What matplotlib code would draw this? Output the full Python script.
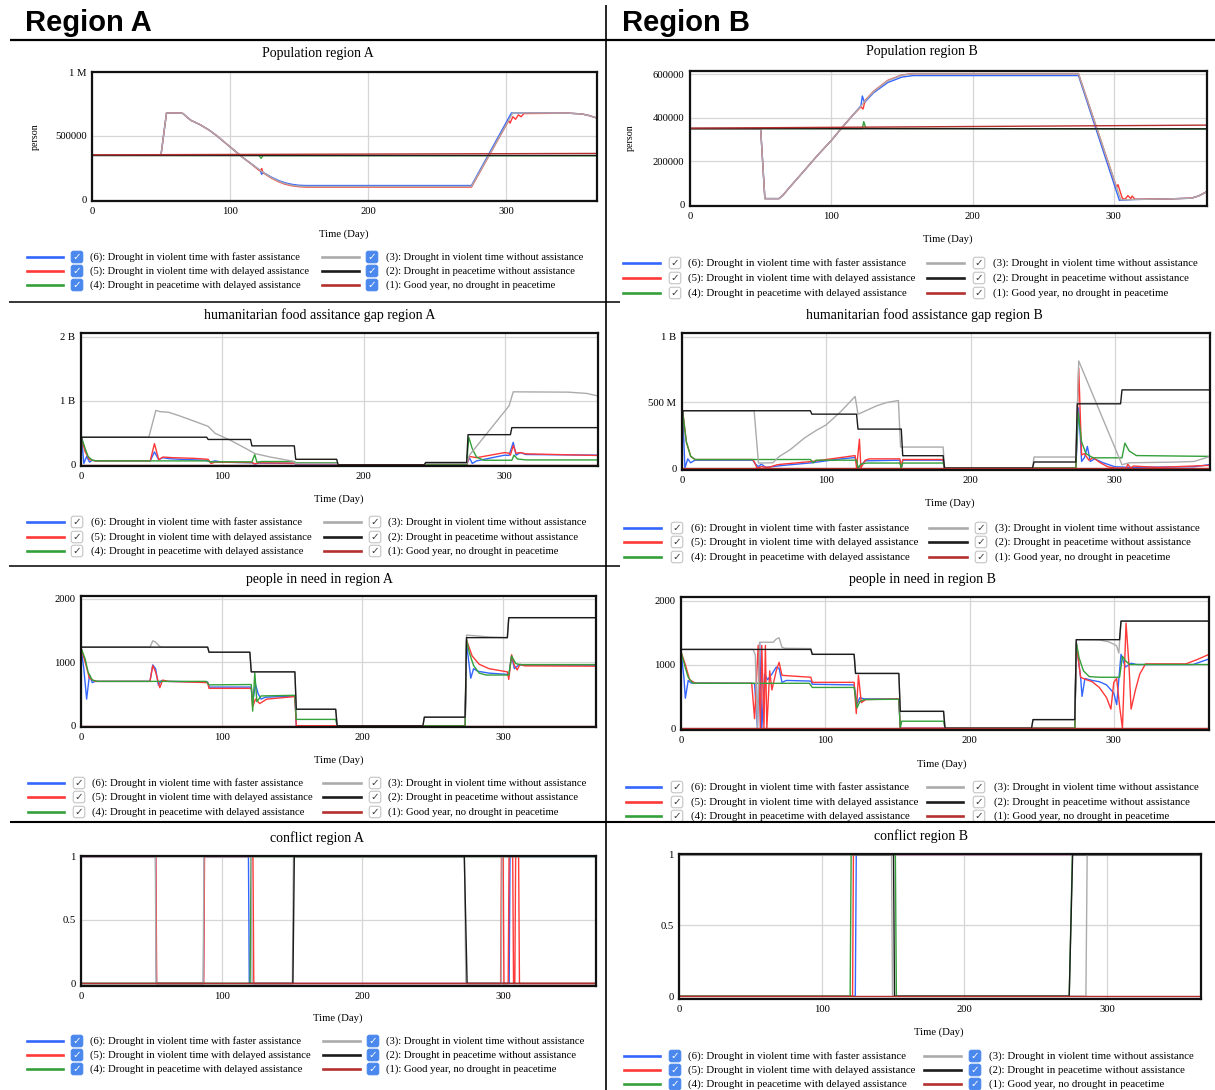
import numpy as np
import matplotlib
matplotlib.use("Agg")
import matplotlib.pyplot as plt
from matplotlib.lines import Line2D
from matplotlib.patches import FancyBboxPatch
from matplotlib.transforms import IdentityTransform

plt.rcParams['font.family'] = ['Liberation Serif', 'DejaVu Serif']

# ---------------- scenario legend ----------------
SCEN_ORDER = [6, 5, 4, 3, 2, 1]
SCEN_LABELS = {
    6: "(6): Drought in violent time with faster assistance",
    5: "(5): Drought in violent time with delayed assistance",
    4: "(4): Drought in peacetime with delayed assistance",
    3: "(3): Drought in violent time without assistance",
    2: "(2): Drought in peacetime without assistance",
    1: "(1): Good year, no drought in peacetime",
}
SCEN_COLORS = {6: '#3366ff', 5: '#ff3838', 4: '#33a03a', 3: '#ababab', 2: '#1c1c1c', 1: '#b3302e'}
X_TICKS = [0, 100, 200, 300]

# ---------------- Population region A (person) ----------------
POP_A_6 = [[0, 350000], [50, 350000], [54, 680000], [64, 680000], [66, 675000], [69, 645000], [72, 620000],
           [78, 590000], [85, 545000], [90, 505000], [95, 460000], [100, 415000], [105, 370000], [110, 325000],
           [115, 285000], [120, 245000], [122, 228000], [123, 200000], [124, 215000], [130, 178000],
           [135, 152000], [140, 133000], [145, 121000], [150, 114000], [155, 112000], [275, 112000],
           [304, 680000], [345, 678000], [355, 672000], [360, 660000], [365, 643000]]
POP_A_5 = [[0, 350000], [50, 350000], [54, 680000], [64, 680000], [66, 675000], [69, 645000], [72, 620000],
           [78, 590000], [85, 545000], [90, 505000], [95, 460000], [100, 415000], [105, 370000], [110, 325000],
           [115, 285000], [120, 240000], [122, 225000], [123, 245000], [124, 212000], [130, 170000],
           [135, 143000], [140, 122000], [145, 110000], [150, 103000], [155, 100000], [275, 100000],
           [302, 620000], [303, 600000], [305, 650000], [307, 630000], [309, 665000], [311, 650000],
           [313, 675000], [345, 678000], [355, 672000], [360, 660000], [365, 643000]]
POP_A_4 = [[0, 348000], [121, 347000], [122.5, 325000], [124, 346000], [365, 345000]]
POP_A_3 = [[0, 350000], [50, 350000], [54, 680000], [64, 680000], [66, 675000], [69, 645000], [72, 620000],
           [78, 590000], [85, 545000], [90, 505000], [95, 460000], [100, 415000], [105, 370000], [110, 325000],
           [115, 285000], [120, 245000], [125, 208000], [130, 174000], [135, 147000], [140, 127000],
           [145, 114000], [150, 107000], [155, 105000], [275, 105000], [305, 680000], [345, 678000],
           [355, 672000], [360, 660000], [365, 643000]]
POP_A_2 = [[0, 350000], [365, 350000]]
POP_A_1 = [[0, 352000], [365, 363000]]

# ---------------- Population region B (person) ----------------
POP_B_6 = [[0, 350000], [50, 350000], [53, 28000], [63, 28000], [66, 45000], [70, 76000], [80, 150000],
           [90, 225000], [100, 295000], [107, 350000], [115, 410000], [121, 455000], [122, 500000],
           [123.5, 470000], [130, 515000], [140, 562000], [150, 587000], [158, 594000], [275, 594000],
           [304, 20000], [315, 24000], [340, 27000], [355, 30000], [360, 40000], [365, 57000]]
POP_B_5 = [[0, 350000], [50, 350000], [53, 28000], [63, 28000], [66, 45000], [70, 76000], [80, 150000],
           [90, 225000], [100, 295000], [107, 350000], [115, 410000], [121, 450000], [122.5, 440000],
           [124, 480000], [130, 522000], [140, 572000], [150, 597000], [158, 603000], [275, 603000],
           [302, 80000], [303, 92000], [306, 30000], [308, 25000], [310, 42000], [312, 28000], [313, 40000],
           [315, 25000], [340, 27000], [355, 30000], [360, 40000], [365, 57000]]
POP_B_4 = [[0, 350000], [122, 350000], [123, 382000], [124.5, 351000], [365, 348000]]
POP_B_3 = [[0, 350000], [50, 350000], [53, 28000], [63, 28000], [66, 45000], [70, 76000], [80, 150000],
           [90, 225000], [100, 295000], [107, 350000], [115, 410000], [120, 445000], [123, 470000],
           [130, 520000], [140, 570000], [150, 596000], [158, 602000], [275, 602000], [305, 22000],
           [315, 24000], [340, 27000], [355, 30000], [360, 40000], [365, 57000]]
POP_B_2 = [[0, 350000], [365, 349000]]
POP_B_1 = [[0, 352000], [365, 366000]]

# ---------------- humanitarian food assistance gap region A (million) ----------------
GAP_A_6 = [[0, 0], [0.5, 400], [2, 20], [4, 130], [6, 40], [8, 70], [10, 60], [49, 60], [52, 200], [55, 80],
           [58, 110], [62, 95], [70, 85], [88, 70], [92, 45], [95, 60], [100, 40], [121, 30], [123, 10],
           [126, 25], [151, 20], [152, 10], [181, 10], [182, 0], [273, 0], [275, 110], [277, 20], [280, 60],
           [300, 150], [303, 145], [306, 350], [308, 150], [311, 190], [315, 160], [365, 150]]
GAP_A_5 = [[0, 0], [0.5, 400], [3, 200], [6, 80], [10, 60], [49, 60], [52, 330], [55, 80], [58, 120],
           [65, 110], [80, 100], [90, 85], [92, 20], [95, 40], [121, 35], [123, 15], [126, 30], [151, 25],
           [152, 15], [181, 15], [182, 0], [273, 0], [275, 130], [280, 110], [290, 150], [300, 190],
           [303, 180], [304, 150], [306, 300], [308, 180], [311, 190], [315, 170], [365, 145]]
GAP_A_4 = [[0, 0], [0.5, 420], [3, 250], [5, 130], [8, 70], [12, 60], [90, 60], [91, 45], [121, 45],
           [123, 160], [124.5, 40], [128, 50], [151, 50], [152, 30], [181, 30], [182, 0], [273, 0],
           [274.5, 430], [277, 250], [280, 120], [285, 70], [305, 70], [306.5, 150], [309, 90], [315, 75],
           [365, 75]]
GAP_A_3 = [[0, 0], [0.5, 430], [48, 430], [53, 850], [56, 830], [62, 820], [69, 770], [79, 690], [90, 600],
           [95, 490], [106, 380], [117, 250], [123, 175], [134, 120], [150, 55], [152, 20], [181, 20],
           [182, 0], [243, 0], [244, 20], [273, 20], [275, 150], [303, 920], [306, 1140], [345, 1135],
           [358, 1115], [365, 1080]]
GAP_A_2 = [[0, 0], [0.5, 430], [89, 430], [90, 395], [120, 395], [121, 295], [151, 295], [152, 85],
           [181, 85], [182, 0], [243, 0], [244, 35], [273, 35], [274, 470], [304, 470], [305, 580], [365, 580]]
GAP_A_1 = [[0, 0], [365, 0]]

# ---------------- humanitarian food assistance gap region B (million) ----------------
GAP_B_6 = [[0, 0], [0.5, 430], [2, 0], [4, 70], [6, 40], [9, 60], [49, 60], [51, 30], [53, 10], [55, 30],
           [58, 5], [62, 10], [70, 20], [90, 40], [100, 55], [110, 70], [120, 80], [122, 0], [127, 55],
           [151, 60], [152, 0], [153, 60], [181, 60], [182, 0], [273, 0], [275, 460], [277, 50], [279, 80],
           [281, 165], [283, 50], [286, 70], [292, 40], [300, 10], [310, 5], [355, 10], [365, 25]]
GAP_B_5 = [[0, 0], [0.5, 430], [3, 200], [6, 90], [9, 65], [49, 65], [50, 50], [52, 0], [55, 10], [60, 5],
           [66, 25], [70, 30], [90, 50], [100, 65], [110, 80], [120, 95], [121, 0], [123, 220], [124, 0],
           [127, 60], [130, 70], [151, 70], [152, 0], [153, 65], [181, 65], [182, 0], [273, 0], [275, 761],
           [277, 100], [279, 110], [282, 60], [285, 80], [290, 40], [295, 10], [300, 0], [308, 0], [309, 30],
           [311, 0], [313, 15], [330, 5], [365, 20]]
GAP_B_4 = [[0, 0], [0.5, 430], [3, 200], [6, 90], [9, 65], [89, 65], [91, 40], [93, 60], [121, 60],
           [122, 0], [124, 30], [128, 38], [151, 38], [152, 0], [153, 38], [181, 38], [182, 0], [273, 0],
           [274.5, 430], [277, 200], [280, 110], [285, 78], [305, 78], [307, 190], [310, 130], [315, 95],
           [365, 89]]
GAP_B_3 = [[0, 0], [0.5, 437], [50, 437], [53, 38], [63, 40], [67, 85], [75, 140], [85, 230], [92, 280],
           [100, 330], [110, 430], [120, 546], [122, 410], [128, 440], [135, 475], [142, 500], [150, 515],
           [151.5, 160], [181, 160], [182, 0], [243, 0], [244, 84], [273, 84], [275, 817], [305, 25],
           [310, 40], [340, 45], [355, 50], [365, 85]]
GAP_B_2 = [[0, 0], [0.5, 437], [89, 437], [90, 411], [121, 411], [122, 297], [152, 297], [153, 94],
           [181, 94], [182, 0], [243, 0], [244, 46], [273, 46], [274, 490], [304, 490], [305, 596], [365, 596]]
GAP_B_1 = [[0, 0], [365, 0]]

# ---------------- people in need in region A ----------------
PIN_A_6 = [[0, 1230], [2, 900], [4, 420], [6, 800], [8, 680], [10, 700], [49, 700], [51, 960], [53, 900],
           [55, 640], [57, 710], [60, 700], [90, 690], [91, 610], [121, 610], [122, 380], [124, 650],
           [126, 500], [128, 420], [131, 450], [152, 470], [153, 0], [273, 0], [274, 1300], [277, 750],
           [279, 900], [282, 860], [290, 830], [303, 810], [304, 790], [306, 1100], [308, 900], [311, 960],
           [315, 955], [365, 955]]
PIN_A_5 = [[0, 1230], [3, 1000], [6, 750], [10, 700], [49, 700], [51, 950], [53, 850], [56, 600], [58, 720],
           [62, 700], [90, 680], [91, 590], [121, 590], [122, 300], [124, 420], [127, 350], [132, 420],
           [152, 460], [153, 0], [273, 0], [274, 1350], [278, 1100], [283, 970], [290, 900], [303, 850],
           [304, 730], [306, 1120], [308, 950], [310, 880], [312, 970], [315, 945], [365, 940]]
PIN_A_4 = [[0, 1230], [3, 1050], [5, 850], [8, 720], [12, 700], [89, 700], [91, 645], [121, 650],
           [122, 230], [123.5, 840], [125, 380], [128, 470], [152, 480], [153, 100], [181, 100], [182, 0],
           [273, 0], [274, 1360], [276, 1150], [279, 950], [283, 830], [288, 800], [304, 800], [306, 1100],
           [309, 980], [312, 965], [365, 965]]
PIN_A_3 = [[0, 1240], [49, 1240], [51, 1340], [53, 1320], [56, 1250], [58, 1240], [90, 1240], [91, 1160],
           [120, 1160], [121, 850], [152, 850], [153, 260], [181, 260], [182, 0], [243, 0], [244, 135],
           [273, 135], [274, 1430], [280, 1420], [290, 1400], [303, 1390], [304, 1705], [365, 1705]]
PIN_A_2 = [[0, 1240], [90, 1240], [91, 1160], [120, 1160], [121, 850], [152, 850], [153, 260], [181, 260],
           [182, 0], [243, 0], [244, 135], [273, 135], [274, 1390], [303, 1390], [304, 1705], [365, 1705]]
PIN_A_1 = [[0, 0], [365, 0]]

# ---------------- people in need in region B ----------------
PIN_B_6 = [[0, 1200], [2, 800], [3, 470], [5, 750], [7, 710], [49, 705], [51, 700], [53, 0], [54.5, 1340],
           [56, 0], [58, 850], [60, 760], [63, 850], [66, 960], [68, 940], [70, 720], [73, 750], [90, 740],
           [91, 690], [120, 680], [122, 380], [124, 480], [127, 460], [151, 460], [152, 0], [273, 0],
           [274, 1340], [277, 800], [278, 500], [280, 780], [285, 750], [290, 730], [295, 680], [300, 550],
           [302, 370], [305, 1160], [308, 960], [312, 1020], [316, 1000], [355, 1000], [365, 1080]]
PIN_B_5 = [[0, 1200], [3, 1000], [6, 760], [10, 705], [49, 705], [51, 150], [53.5, 1300], [55, 0],
           [56, 1300], [57.5, 0], [58.5, 1300], [59.5, 0], [61.5, 900], [63, 600], [66, 900], [68, 1035],
           [70, 830], [90, 800], [91, 720], [120, 720], [121.5, 230], [123, 830], [125, 400], [128, 450],
           [151, 460], [152, 0], [273, 0], [274, 1330], [277, 800], [280, 770], [285, 730], [290, 640],
           [295, 480], [298, 300], [300, 720], [302, 780], [304, 350], [306, 0], [308.5, 1650], [310.5, 1000],
           [312, 300], [315, 600], [318, 850], [322, 1010], [350, 1010], [358, 1080], [365, 1150]]
PIN_B_4 = [[0, 1200], [3, 950], [5, 800], [8, 710], [12, 705], [89, 705], [91, 640], [120, 640],
           [122, 320], [124, 420], [127, 450], [151, 455], [152, 0], [153, 110], [182, 110], [183, 0],
           [273, 0], [274, 1350], [276, 1100], [279, 900], [283, 810], [290, 800], [304, 800], [306, 1130],
           [308, 1060], [311, 1000], [365, 1000]]
PIN_B_3 = [[0, 1237], [50, 1237], [51.5, 1150], [53, 0], [54.5, 1350], [64, 1350], [66, 1400], [68, 1420],
           [70, 1270], [72, 1255], [90, 1250], [91, 1160], [120, 1160], [121, 860], [151, 860], [152, 265],
           [182, 265], [183, 0], [243, 0], [244, 135], [273, 135], [274, 1390], [290, 1385], [296, 1360],
           [300, 1320], [302, 1290], [303.5, 1180], [305, 1682], [365, 1682]]
PIN_B_2 = [[0, 1237], [90, 1237], [91, 1160], [120, 1160], [121, 860], [151, 860], [152, 265], [182, 265],
           [183, 0], [243, 0], [244, 135], [273, 135], [274, 1390], [304, 1390], [305, 1682], [365, 1682]]
PIN_B_1 = [[0, 0], [365, 0]]

# ---------------- conflict region A (0/1) ----------------
CON_A_6 = [[0, 1], [53, 1], [53.6, 0], [87, 0], [87.6, 1], [119, 1], [119.6, 0], [304.3, 0], [304.9, 1], [365, 1]]
CON_A_5 = [[0, 1], [53.2, 1], [53.8, 0], [87.2, 0], [87.8, 1], [122.2, 1], [122.8, 0], [298.2, 0], [298.8, 1],
           [300.0, 1], [300.6, 0], [303.6, 0], [304.2, 1], [306.8, 1], [307.4, 0], [308.3, 0], [308.9, 1],
           [311.0, 1], [311.6, 0], [365, 0]]
CON_A_4 = [[0, 0], [120.2, 0], [120.8, 1], [365, 1]]
CON_A_3 = [[0, 1], [52.8, 1], [53.4, 0], [86.8, 0], [87.4, 1], [121, 1], [121.6, 0], [150.2, 0], [151, 1],
           [272.5, 1], [273.5, 0], [298.6, 0], [299.2, 1], [365, 1]]
CON_A_2 = [[0, 0], [150.6, 0], [151.6, 1], [272.4, 1], [274.4, 0], [365, 0]]
CON_A_1 = [[0, 0], [365, 0]]

# ---------------- conflict region B (0/1) ----------------
CON_B_6 = [[0, 0], [123.6, 0], [124.3, 1], [365, 1]]
CON_B_5 = [[0, 0], [121.7, 0], [122.3, 1], [365, 1]]
CON_B_4 = [[0, 0], [120.0, 0], [120.7, 1], [151.7, 1], [152.4, 0], [273.6, 0], [275.8, 1], [365, 1]]
CON_B_3 = [[0, 1], [149.0, 1], [149.7, 0], [285.3, 0], [286.2, 1], [365, 1]]
CON_B_2 = [[0, 1], [150.4, 1], [151.1, 0], [273.6, 0], [276.0, 1], [365, 1]]
CON_B_1 = [[0, 0], [365, 0]]

# ---------------- layout helpers ----------------
W, H = 1215, 1090
fig = plt.figure(figsize=(W / 100, H / 100), dpi=100)
fig.patch.set_facecolor('white')


def fx(x):
    return x / W


def fy(y):
    return 1 - y / H


def axes_px(l, t, r, b):
    return fig.add_axes([fx(l), fy(b), (r - l) / W, (b - t) / H])


def hline(y, x0, x1, lw):
    fig.add_artist(Line2D([fx(x0), fx(x1)], [fy(y), fy(y)], color='black', lw=lw,
                          transform=fig.transFigure, solid_capstyle='butt'))


def vline(x, y0, y1, lw):
    fig.add_artist(Line2D([fx(x), fx(x)], [fy(y0), fy(y1)], color='black', lw=lw,
                          transform=fig.transFigure, solid_capstyle='butt'))


def checkbox(cx, cy, style):
    s = 11.5
    if style == 'blue':
        fc, ec, cc = '#4a88ee', '#4a88ee', 'white'
    else:
        fc, ec, cc = 'white', '#c4c4c4', '#3a3a3a'
    box = FancyBboxPatch((cx - s / 2, H - cy - s / 2), s, s,
                         boxstyle='round,pad=0,rounding_size=2.2', fc=fc, ec=ec, lw=0.8,
                         transform=IdentityTransform())
    fig.add_artist(box)
    fig.text(fx(cx), fy(cy), '\u2713', color=cc, fontsize=7.5, ha='center', va='center',
             family=['DejaVu Sans'], fontweight='bold' if style == 'blue' else 'normal')


def legend(rows, c1, c2, style, fs):
    for col, idxs in ((c1, [6, 5, 4]), (c2, [3, 2, 1])):
        x0, x1, cb, tx = col
        for y, i in zip(rows, idxs):
            fig.add_artist(Line2D([fx(x0), fx(x1)], [fy(y), fy(y)], color=SCEN_COLORS[i], lw=1.9,
                                  transform=fig.transFigure))
            checkbox(cb, y, style)
            fig.text(fx(tx), fy(y), SCEN_LABELS[i], fontsize=fs, ha='left', va='center')


PANELS = [
    dict(series={6: POP_A_6, 5: POP_A_5, 4: POP_A_4, 3: POP_A_3, 2: POP_A_2, 1: POP_A_1},
         box=(92, 72, 597, 201), ylim=(-9000, 1.0e6), yt=[0, 5e5, 1e6], ytl=['0', '500000', '1 M'],
         title='Population region A', tpos=(318, 53), xl=(344, 234), ylab=(35, 137),
         rows=(257, 271, 285), c1=(27, 63, 77, 90), c2=(322, 359, 372, 386), cb='blue', fs=7.6),
    dict(series={6: POP_B_6, 5: POP_B_5, 4: POP_B_4, 3: POP_B_3, 2: POP_B_2, 1: POP_B_1},
         box=(690, 71, 1207, 206), ylim=(-6000, 615000), yt=[0, 2e5, 4e5, 6e5],
         ytl=['0', '200000', '400000', '600000'],
         title='Population region B', tpos=(922, 52), xl=(948, 239), ylab=(630, 138),
         rows=(263, 278, 293), c1=(623, 660, 675, 688), c2=(927, 964, 979, 993), cb='white', fs=7.85),
    dict(series={6: GAP_A_6, 5: GAP_A_5, 4: GAP_A_4, 3: GAP_A_3, 2: GAP_A_2, 1: GAP_A_1},
         box=(81, 333, 598, 466), ylim=(-20, 2060), yt=[0, 1000, 2000], ytl=['0', '1 B', '2 B'],
         title='humanitarian food assitance gap region A', tpos=(320, 315), xl=(339, 499), ylab=None,
         rows=(522, 537, 551), c1=(27, 64, 77, 91), c2=(324, 361, 375, 388), cb='white', fs=7.7),
    dict(series={6: GAP_B_6, 5: GAP_B_5, 4: GAP_B_4, 3: GAP_B_3, 2: GAP_B_2, 1: GAP_B_1},
         box=(682, 333, 1210, 470), ylim=(-15, 1030), yt=[0, 500, 1000], ytl=['0', '500 M', '1 B'],
         title='humanitarian food assistance gap region B', tpos=(924, 315), xl=(950, 503), ylab=None,
         rows=(528, 542, 557), c1=(624, 661, 677, 691), c2=(929, 967, 981, 995), cb='white', fs=7.85),
    dict(series={6: PIN_A_6, 5: PIN_A_5, 4: PIN_A_4, 3: PIN_A_3, 2: PIN_A_2, 1: PIN_A_1},
         box=(81, 596, 596, 727), ylim=(-20, 2047), yt=[0, 1000, 2000], ytl=['0', '1000', '2000'],
         title='people in need in region A', tpos=(319, 579), xl=(339, 760), ylab=None,
         rows=(783, 797, 812), c1=(28, 64, 79, 92), c2=(323, 361, 375, 388), cb='white', fs=7.7),
    dict(series={6: PIN_B_6, 5: PIN_B_5, 4: PIN_B_4, 3: PIN_B_3, 2: PIN_B_2, 1: PIN_B_1},
         box=(681, 597, 1209, 730), ylim=(-28, 2060), yt=[0, 1000, 2000], ytl=['0', '1000', '2000'],
         title='people in need in region B', tpos=(922, 579), xl=(942, 764), ylab=None,
         rows=(787, 802, 816), c1=(626, 661, 677, 691), c2=(927, 963, 979, 994), cb='white', fs=7.85),
    dict(series={6: CON_A_6, 5: CON_A_5, 4: CON_A_4, 3: CON_A_3, 2: CON_A_2, 1: CON_A_1},
         box=(81, 856, 596, 986), ylim=(-0.02, 1.004), yt=[0, 0.5, 1], ytl=['0', '0.5', '1'],
         title='conflict region A', tpos=(317, 838), xl=(338, 1018), ylab=None,
         rows=(1041, 1055, 1069), c1=(27, 63, 77, 90), c2=(323, 360, 373, 386), cb='blue', fs=7.7),
    dict(series={6: CON_B_6, 5: CON_B_5, 4: CON_B_4, 3: CON_B_3, 2: CON_B_2, 1: CON_B_1},
         box=(679, 854, 1201, 999), ylim=(-0.02, 1.004), yt=[0, 0.5, 1], ytl=['0', '0.5', '1'],
         title='conflict region B', tpos=(921, 836), xl=(939, 1032), ylab=None,
         rows=(1056, 1070, 1084), c1=(624, 660, 675, 688), c2=(924, 961, 975, 989), cb='blue', fs=7.8),
]

for p in PANELS:
    ax = axes_px(*p['box'])
    ax.set_xlim(0, 366)
    ax.set_ylim(*p['ylim'])
    ax.set_xticks(X_TICKS)
    ax.set_xticklabels([str(v) for v in X_TICKS])
    ax.set_yticks(p['yt'])
    ax.set_yticklabels(p['ytl'])
    ax.tick_params(length=0, labelsize=7.7, pad=4)
    ax.grid(True, color='#d6d6d6', lw=0.9)
    ax.set_axisbelow(True)
    for sp in ax.spines.values():
        sp.set_linewidth(1.6)
        sp.set_color('#111111')
        sp.set_zorder(5)
    for i in SCEN_ORDER:
        arr = np.array(p['series'][i], dtype=float)
        ax.plot(arr[:, 0], arr[:, 1], color=SCEN_COLORS[i], lw=1.0, zorder=2)
    fig.text(fx(p['tpos'][0]), fy(p['tpos'][1]), p['title'], fontsize=10, ha='center', va='center')
    fig.text(fx(p['xl'][0]), fy(p['xl'][1]), 'Time (Day)', fontsize=7.7, ha='center', va='center')
    if p['ylab'] is not None:
        fig.text(fx(p['ylab'][0]), fy(p['ylab'][1]), 'person', fontsize=7.2, rotation=90,
                 ha='center', va='center')
    legend(p['rows'], p['c1'], p['c2'], p['cb'], p['fs'])

# ---------------- headers and table rules ----------------
fig.text(fx(25), fy(23), 'Region A', fontsize=21, fontweight='bold', family=['Liberation Sans'],
         ha='left', va='center')
fig.text(fx(622), fy(23), 'Region B', fontsize=21, fontweight='bold', family=['Liberation Sans'],
         ha='left', va='center')
hline(40, 10, 1215, 1.6)
vline(606, 5, 1090, 1.2)
hline(302, 9, 620, 1.1)
hline(566, 9, 620, 1.1)
hline(822, 10, 1215, 1.5)

fig.savefig('out.png', dpi=100, facecolor='white')
